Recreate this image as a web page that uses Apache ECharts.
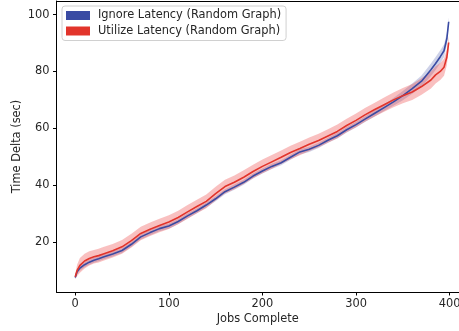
<!DOCTYPE html>
<html>
<head>
<meta charset="utf-8">
<script src="https://cdn.jsdelivr.net/npm/echarts@6/dist/echarts.min.js"></script>
<style>html,body{margin:0;padding:0;background:#fff;}#c{width:459px;height:331px;}</style>
</head>
<body>
<div id="c"></div>
<script>
const jobs = [0,2,5,10,15,20,25,30,40,50,60,70,80,90,100,110,120,130,140,150,160,170,180,190,200,210,220,230,240,250,260,270,280,290,300,310,320,330,340,350,360,370,380,385,390,394,397,399];
const ignoreMean = [7.5,9.5,10.8,12.0,12.9,13.6,14.1,14.7,15.8,17.0,19.2,21.8,23.3,24.7,25.6,27.2,29.2,31.0,33.0,35.2,37.7,39.3,41.0,43.2,45.0,46.6,47.9,49.8,51.7,52.6,54.0,55.8,57.4,59.5,61.3,63.3,65.3,67.3,69.3,71.5,74.0,76.6,80.6,82.8,85.2,87.3,91.5,97.5];
const ignoreSpread = [0.6,0.8,0.9,0.9,0.9,0.9,0.9,0.9,0.9,0.9,0.9,0.9,0.9,0.9,0.9,0.9,0.9,0.9,0.9,0.9,0.9,0.9,0.9,0.9,0.9,0.9,0.9,0.9,0.9,0.9,0.9,0.9,1.0,1.0,1.0,1.0,1.1,1.2,1.4,1.6,1.8,2.0,2.2,2.3,2.3,2.2,2.0,1.6];
const utilizeMean = [7.8,10.0,11.8,13.3,14.2,14.8,15.2,15.8,16.9,18.3,20.5,23.0,24.5,25.8,27.0,28.6,30.6,32.5,34.3,37.0,39.5,41.0,42.8,44.8,46.6,48.2,49.8,51.5,52.9,54.4,55.7,57.3,58.9,61.0,62.8,64.8,66.6,68.3,70.0,71.5,72.8,74.7,77.0,78.8,80.0,81.5,85.0,90.2];
const utilizeSpread = [0.8,2.0,2.6,2.6,2.5,2.4,2.4,2.4,2.4,2.4,2.4,2.4,2.4,2.4,2.4,2.4,2.4,2.4,2.4,2.4,2.4,2.4,2.4,2.4,2.4,2.4,2.4,2.4,2.4,2.4,2.4,2.4,2.4,2.4,2.4,2.4,2.4,2.5,2.6,2.7,2.8,2.9,3.0,3.0,3.0,3.0,2.8,2.2];
const xTicks = [0,100,200,300,400];
const yTicks = [20,40,60,80,100];
const names = ['Ignore Latency (Random Graph)', 'Utilize Latency (Random Graph)'];

const BLUE = '#3a4ba3', RED = '#e2342b';
const FONT = 'DejaVu Sans';
const FS = 11.4;

function band(mean, spread, fill) {
  return {
    type: 'custom',
    silent: true,
    clip: true,
    data: jobs.map((j, i) => [j, mean[i] - spread[i], mean[i] + spread[i]]),
    encode: { x: 0, y: [1, 2] },
    renderItem: function (params, api) {
      if (params.dataIndex !== 0) return null;
      const up = jobs.map((j, i) => api.coord([j, mean[i] + spread[i]]));
      const lo = jobs.map((j, i) => api.coord([j, mean[i] - spread[i]])).reverse();
      return { type: 'polygon', shape: { points: up.concat(lo) }, style: { fill: fill } };
    }
  };
}
function line(name, mean, color) {
  return {
    type: 'line', name: name, showSymbol: false, symbol: 'none', smooth: false,
    data: jobs.map((j, i) => [j, mean[i]]),
    lineStyle: { color: color, width: 1.6 }, itemStyle: { color: color },
    z: 3
  };
}

const chart = echarts.init(document.getElementById('c'), null, { renderer: 'canvas' });
chart.setOption({
  animation: false,
  textStyle: { fontFamily: FONT },
  grid: { left: 56.5, top: 1, bottom: 39, right: 0, outerBoundsMode: 'none', containLabel: false },
  legend: {
    orient: 'vertical', left: 62, top: 6, data: names,
    icon: 'rect', itemWidth: 24, itemHeight: 9, itemGap: 2.5,
    padding: [3, 5, 3, 4],
    backgroundColor: '#fff', borderColor: '#d0d0d0', borderWidth: 1, borderRadius: 3,
    textStyle: { fontFamily: FONT, fontSize: FS, color: '#262626', lineHeight: 13, padding: [0, 0, 0, 3] }
  },
  xAxis: [{
    type: 'value', min: -20, max: 410,
    name: 'Jobs Complete', nameLocation: 'middle', nameGap: 22, nameMoveOverlap: false,
    nameTextStyle: { fontFamily: FONT, fontSize: FS, color: '#262626' },
    axisLine: { show: true, onZero: false, lineStyle: { color: '#000', width: 1 } },
    axisTick: { show: true, length: 3.5, lineStyle: { color: '#000' }, customValues: xTicks },
    axisLabel: { fontFamily: FONT, fontSize: FS, color: '#262626', margin: 7, customValues: xTicks },
    splitLine: { show: false }
  }, {
    type: 'value', min: -20, max: 410, position: 'top',
    axisLine: { show: true, onZero: false, lineStyle: { color: '#000', width: 1 } },
    axisTick: { show: false }, axisLabel: { show: false }, splitLine: { show: false }
  }],
  yAxis: {
    type: 'value', min: 2.4, max: 104.8,
    name: 'Time Delta (sec)', nameLocation: 'middle', nameGap: 34, nameMoveOverlap: false,
    nameTextStyle: { fontFamily: FONT, fontSize: FS, color: '#262626' },
    axisLine: { show: true, onZero: false, lineStyle: { color: '#000', width: 1 } },
    axisTick: { show: true, length: 3.5, lineStyle: { color: '#000' }, customValues: yTicks },
    axisLabel: { fontFamily: FONT, fontSize: FS, color: '#262626', margin: 7, customValues: yTicks },
    splitLine: { show: false }
  },
  series: [
    band(ignoreMean, ignoreSpread, 'rgba(58,75,163,0.25)'),
    line(names[0], ignoreMean, BLUE),
    band(utilizeMean, utilizeSpread, 'rgba(236,60,60,0.32)'),
    line(names[1], utilizeMean, RED)
  ]
});
</script>
</body>
</html>
